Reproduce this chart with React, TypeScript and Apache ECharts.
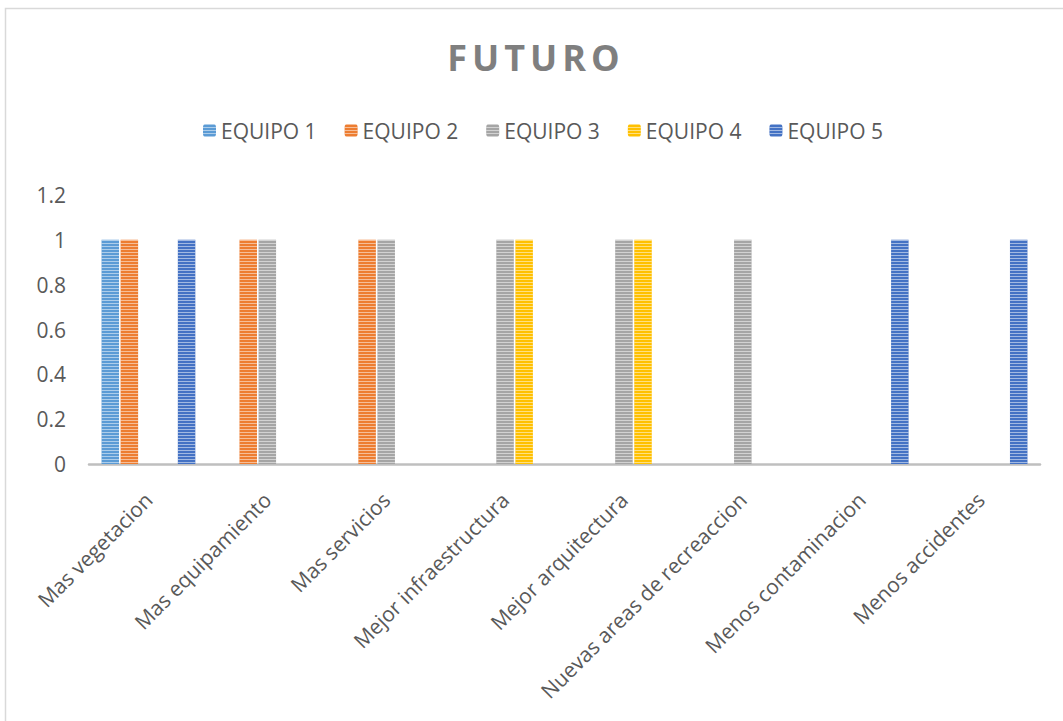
import React, { useEffect, useRef } from "react";
import * as echarts from "echarts";

const categories = [
  "Mas vegetacion",
  "Mas equipamiento",
  "Mas servicios",
  "Mejor infraestructura",
  "Mejor arquitectura",
  "Nuevas areas de recreaccion",
  "Menos contaminacion",
  "Menos accidentes",
];

const seriesNames = ["EQUIPO 1", "EQUIPO 2", "EQUIPO 3", "EQUIPO 4", "EQUIPO 5"];
const equipo1 = [1, 0, 0, 0, 0, 0, 0, 0];
const equipo2 = [1, 1, 1, 0, 0, 0, 0, 0];
const equipo3 = [0, 1, 1, 1, 1, 1, 0, 0];
const equipo4 = [0, 0, 0, 1, 1, 0, 0, 0];
const equipo5 = [1, 0, 0, 0, 0, 0, 1, 1];
const seriesColors = ["#5B9BD5", "#ED7D31", "#A5A5A5", "#FFC000", "#4472C4"];
const yTicks = { min: 0, max: 1.2, interval: 0.2 };

export default function App() {
  const ref = useRef<HTMLDivElement>(null);

  useEffect(() => {
    if (!ref.current) return;
    const chart = echarts.init(ref.current, undefined, { renderer: "svg" });
    const values = [equipo1, equipo2, equipo3, equipo4, equipo5];
    const decal = {
      symbol: "rect",
      symbolSize: 1,
      dashArrayX: [1, 0],
      dashArrayY: [1, 2],
      rotation: 0,
      color: "rgba(255,255,255,0.5)",
    };
    chart.setOption({
      animation: false,
      backgroundColor: "#ffffff",
      textStyle: { fontFamily: "Open Sans" },
      title: {
        text: "FUTURO",
        left: 531,
        textAlign: "center",
        top: 34,
        textStyle: {
          fontFamily: "Open Sans",
          fontWeight: "bold",
          fontSize: 36,
          color: "#7f7f7f",
        },
      },
      legend: {
        left: 203,
        top: 120,
        padding: 0,
        itemWidth: 13,
        itemHeight: 13,
        itemGap: 28,
        textStyle: { fontSize: 21, color: "#595959" },
        data: seriesNames,
      },
      graphic: [
        {
          type: "rect",
          shape: { x: 5.5, y: 8.5, width: 1200, height: 900 },
          style: { fill: "none", stroke: "#d9d9d9", lineWidth: 1.5 },
          silent: true,
          z: -1,
        },
      ],
      grid: { left: 89, right: 23, top: 195, bottom: 257, containLabel: false },
      xAxis: {
        type: "category",
        data: categories,
        axisLine: { show: true, lineStyle: { color: "#bfbfbf", width: 2.5 } },
        axisTick: { show: false },
        axisLabel: {
          rotate: 45,
          interval: 0,
          margin: 32,
          fontSize: 21,
          color: "#595959",
        },
      },
      yAxis: {
        type: "value",
        min: yTicks.min,
        max: yTicks.max,
        interval: yTicks.interval,
        axisLine: { show: false },
        axisTick: { show: false },
        splitLine: { show: false },
        axisLabel: {
          margin: 23,
          fontSize: 21,
          color: "#595959",
          formatter: (v: number) => String(Math.round(v * 10) / 10),
        },
      },
      series: seriesNames.map((name, i) => ({
        name,
        type: "bar",
        data: values[i],
        barWidth: 17.5,
        barGap: "9%",
        itemStyle: { color: seriesColors[i], decal },
      })),
    });

    const root = ref.current;
    root.querySelectorAll("text").forEach((t) => {
      if (t.textContent === "FUTURO") {
        t.setAttribute("letter-spacing", "5");
      }
    });

    return () => chart.dispose();
  }, []);

  return (
    <div
      ref={ref}
      style={{ position: "fixed", left: 0, top: 0, width: 1063, height: 721 }}
    />
  );
}
